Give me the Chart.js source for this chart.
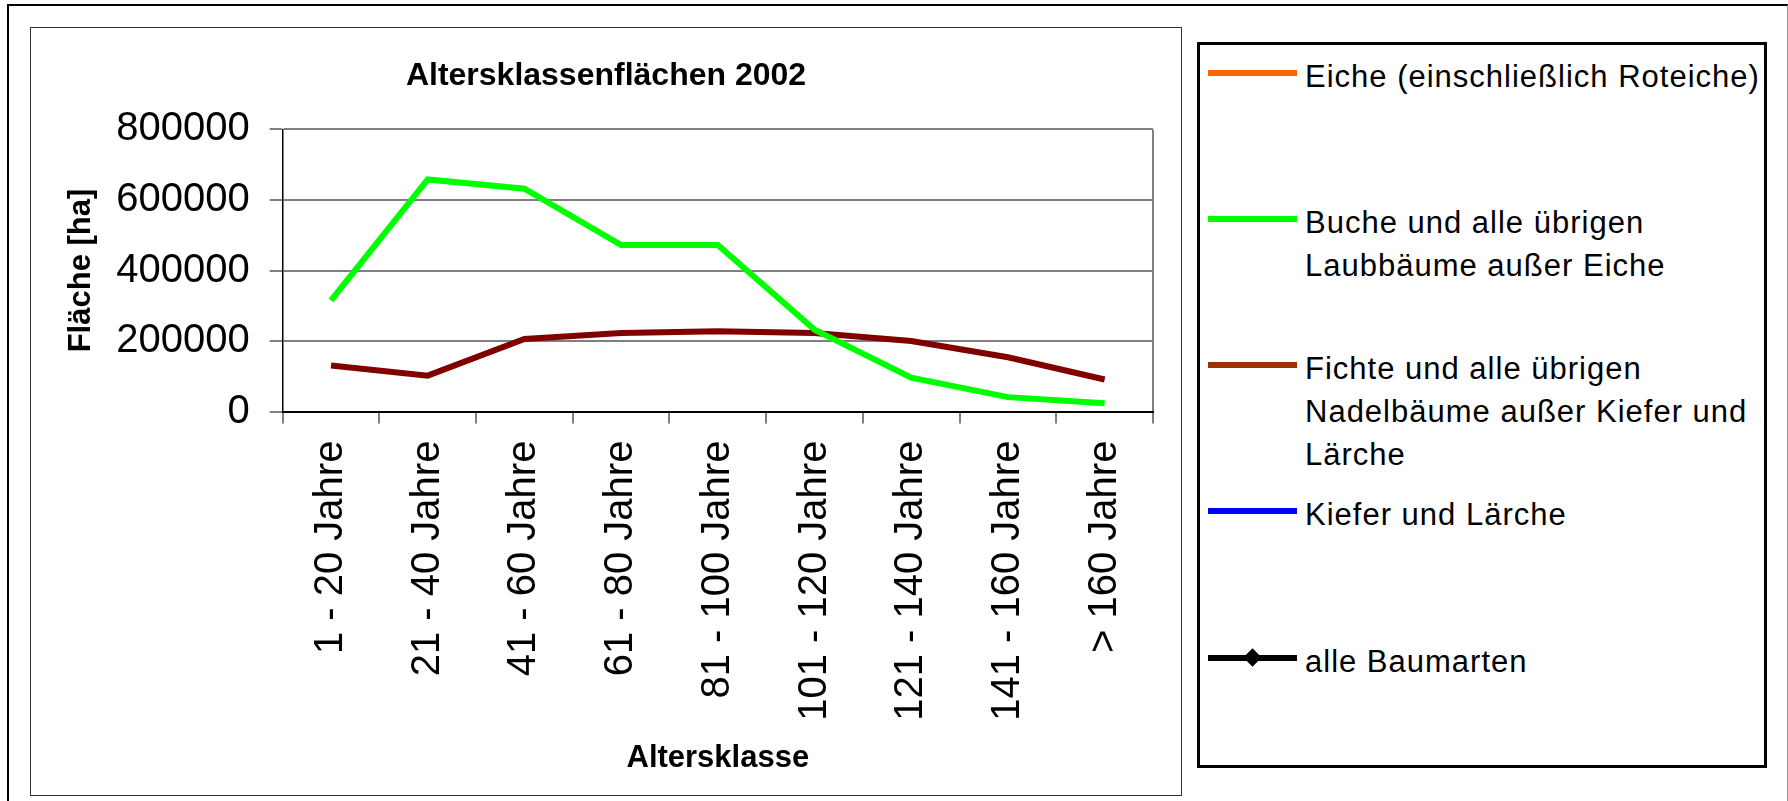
<!DOCTYPE html>
<html lang="de">
<head>
<meta charset="utf-8">
<title>Altersklassenflächen 2002</title>
<script src="https://cdn.jsdelivr.net/npm/chart.js@4.4.1/dist/chart.umd.min.js"></script>
<style>
    html, body { margin: 0; padding: 0; background: #fff; }
    body {
        width: 1788px; height: 801px; position: relative; overflow: hidden;
        font-family: 'Liberation Sans', Arial, sans-serif;
    }
    #rahmen {
        position: absolute; left: 7px; top: 4px; width: 1778px; height: 800px;
        border-left: 2px solid #000; border-top: 2px solid #000; border-right: 1px solid #999;
    }
    #diagramm {
        position: absolute; left: 30px; top: 27px; width: 1150px; height: 767px;
        border: 1px solid #333;
    }
    #legende {
        position: absolute; left: 1197px; top: 42px; width: 564px; height: 720px;
        border: 3px solid #000;
    }
    .eintrag {
        position: absolute; left: 0; right: 0;
        font-size: 31px; line-height: 43px; letter-spacing: 1px; color: #000;
    }
    .linie { position: absolute; left: 8px; width: 89px; height: 6px; top: 15px; }
    .raute { position: absolute; left: 46px; top: 11px; width: 13px; height: 13px; transform: rotate(45deg); }
    .text { position: absolute; left: 105px; top: 0; white-space: nowrap; }
</style>
</head>
<body>
<div id="rahmen"></div>
<div id="diagramm"><canvas id="altersChart"></canvas></div>
<div id="legende"></div>

<script>
// ==========================================
// DATEN
// ==========================================
const altersklassen = [
    '1 - 20 Jahre', '21 - 40 Jahre', '41 - 60 Jahre', '61 - 80 Jahre', '81 - 100 Jahre',
    '101 - 120 Jahre', '121 - 140 Jahre', '141 - 160 Jahre', '> 160 Jahre'
];

// Fläche in ha je Altersklasse
const eiche = [];
const buche = [315000, 658000, 632000, 472000, 472000, 232000, 96000, 41000, 24000];
const fichte = [131000, 102000, 206000, 223000, 228000, 223000, 200000, 154000, 91000];
const kiefer = [];
const alleBaumarten = [];

const yTicks = [0, 200000, 400000, 600000, 800000];

const serienNamen = [
    ['Eiche (einschließlich Roteiche)'],
    ['Buche und alle übrigen', 'Laubbäume außer Eiche'],
    ['Fichte und alle übrigen', 'Nadelbäume außer Kiefer und', 'Lärche'],
    ['Kiefer und Lärche'],
    ['alle Baumarten']
];
const serienDaten = [eiche, buche, fichte, kiefer, alleBaumarten];
const linienFarben = ['#ff6600', '#00ff00', '#800000', '#0000ff', '#000000'];
const legendenFarben = ['#ff6600', '#00ff00', '#993300', '#0000ff', '#000000'];

// ==========================================
// DIAGRAMM
// ==========================================
Chart.defaults.font.family = "'Liberation Sans', Arial, sans-serif";
Chart.defaults.color = '#000';

const datasets = serienDaten.map((werte, i) => ({
    label: serienNamen[i].join(' '),
    data: werte,
    borderColor: linienFarben[i],
    backgroundColor: linienFarben[i],
    borderWidth: 6,
    tension: 0,
    fill: false,
    pointRadius: 0,
    pointStyle: i === 4 ? 'rectRot' : 'circle'
}));

// Hinweis: Chart.js reserviert ticks.padding beidseitig der Beschriftung,
// daher der negative Abstand unter dem Y-Achsentitel.
const chart = new Chart(document.getElementById('altersChart'), {
    type: 'line',
    data: { labels: altersklassen, datasets: datasets },
    options: {
        responsive: true,
        maintainAspectRatio: false,
        animation: false,
        layout: { padding: 0 },
        plugins: {
            legend: { display: false },
            tooltip: { enabled: false },
            title: {
                display: true,
                text: 'Altersklassenflächen 2002',
                color: '#000',
                font: { size: 32, weight: 'bold' },
                padding: { top: 29, bottom: 34 }
            }
        },
        scales: {
            x: {
                offset: true,
                // Rand rechts nur für die Zeichenfläche, der Titel bleibt mittig
                afterFit: scale => { scale.paddingRight = 28; },
                grid: {
                    offset: true,
                    // nur die rechte Begrenzung der Zeichenfläche
                    color: c => c.type === 'tick' ? 'rgba(0,0,0,0)' : '#808080',
                    lineWidth: 2,
                    tickLength: 12,
                    tickColor: '#000',
                    tickWidth: 1
                },
                border: { color: '#000', width: 2 },
                ticks: {
                    color: '#000',
                    font: { size: 40 },
                    minRotation: 90,
                    maxRotation: 90,
                    autoSkip: false,
                    padding: 17
                },
                title: {
                    display: true,
                    text: 'Altersklasse',
                    color: '#000',
                    font: { size: 31, weight: 'bold' },
                    padding: { top: 2, bottom: 18 }
                }
            },
            y: {
                min: yTicks[0],
                max: yTicks[yTicks.length - 1],
                afterBuildTicks: scale => { scale.ticks = yTicks.map(v => ({ value: v })); },
                grid: {
                    color: '#808080',
                    lineWidth: 2,
                    tickLength: 13,
                    tickColor: '#000',
                    tickWidth: 1
                },
                border: { color: '#000', width: 1.5 },
                ticks: {
                    color: '#000',
                    font: { size: 40 },
                    padding: 20,
                    callback: v => String(v)
                },
                title: {
                    display: true,
                    text: 'Fläche [ha]',
                    color: '#000',
                    font: { size: 31, weight: 'bold' },
                    padding: { top: 32, bottom: -4 }
                }
            }
        }
    }
});

// ==========================================
// LEGENDE (eigener Kasten rechts)
// ==========================================
const legende = document.getElementById('legende');
chart.data.datasets.forEach((ds, i) => {
    const eintrag = document.createElement('div');
    eintrag.className = 'eintrag';
    eintrag.style.top = (9.5 + i * 146.3) + 'px';

    const linie = document.createElement('span');
    linie.className = 'linie';
    linie.style.background = legendenFarben[i];
    eintrag.appendChild(linie);

    if (ds.pointStyle === 'rectRot') {
        const raute = document.createElement('span');
        raute.className = 'raute';
        raute.style.background = legendenFarben[i];
        eintrag.appendChild(raute);
    }

    const text = document.createElement('div');
    text.className = 'text';
    text.innerHTML = serienNamen[i].join('<br>');
    eintrag.appendChild(text);

    legende.appendChild(eintrag);
});
</script>
</body>
</html>
